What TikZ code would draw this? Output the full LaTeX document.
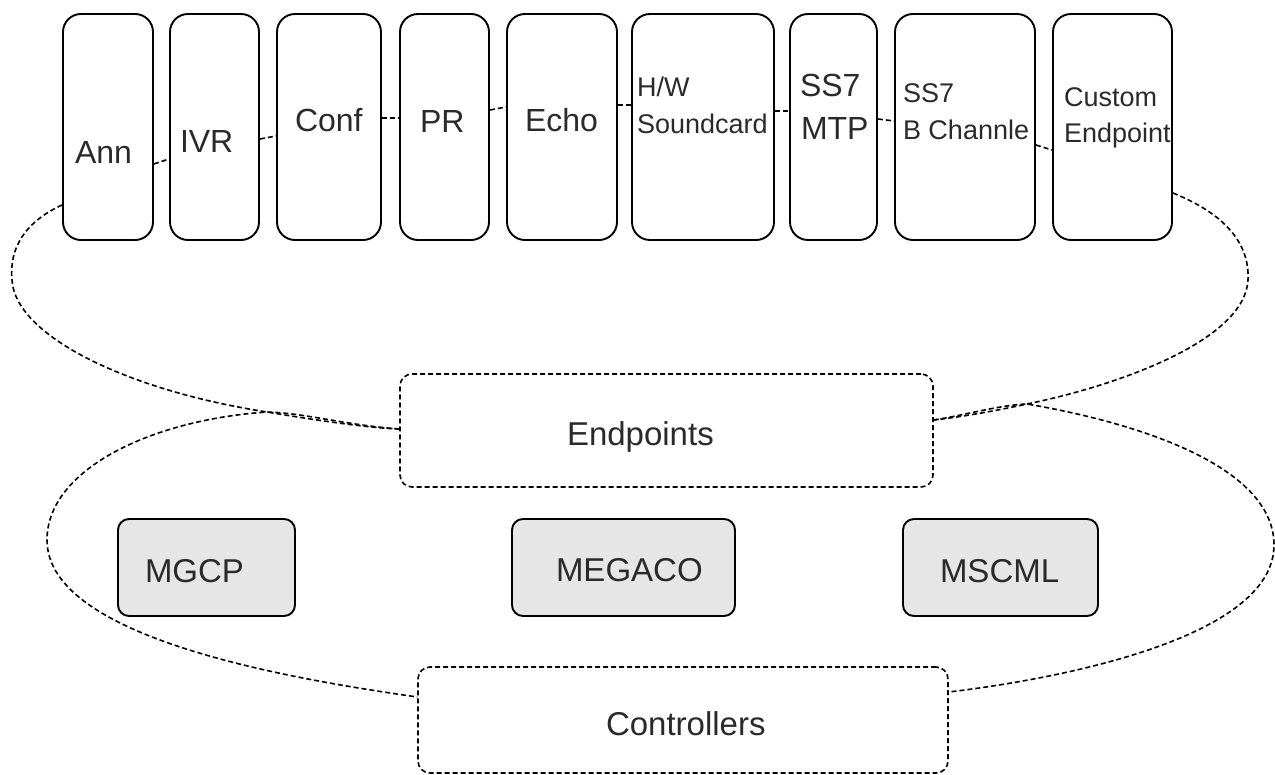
\documentclass[tikz,border=0pt]{standalone}
\usepackage{fontspec}
\setmainfont{Liberation Sans}
\usetikzlibrary{calc}
\newcommand\FontTop{\fontsize{32}{38}\selectfont}
\newcommand\FontTwo{\fontsize{27}{32}\selectfont}
\newcommand\FontBot{\fontsize{33}{40}\selectfont}
\definecolor{txtc}{HTML}{2A2A2A}
\definecolor{protofill}{HTML}{E6E6E6}
\begin{document}
\begin{tikzpicture}[x=1pt,y=-1pt,
  tbox/.style={draw=black, line width=1.9pt, rounded corners=18pt, inner sep=0pt, minimum height=226pt},
  dbox/.style={draw=black, line width=1.6pt, dash pattern=on 5pt off 3pt, rounded corners=12pt, inner sep=0pt},
  pbox/.style={draw=black, line width=1.9pt, fill=protofill, rounded corners=11pt, inner sep=0pt, minimum height=97pt},
  lbl/.style={inner sep=0pt, outer sep=0pt, text=txtc, anchor=base west},
  link/.style={draw=black, line width=1.6pt, dash pattern=on 5pt off 3pt},
  loop/.style={draw=black, line width=1.6pt, dash pattern=on 5pt off 3pt}
]
\useasboundingbox (0,0) rectangle (1275,775);

% top endpoint boxes
\node[tbox, minimum width=90pt]  (Ann)  at (108,127) {};
\node[tbox, minimum width=89pt]  (IVR)  at (214.5,127) {};
\node[tbox, minimum width=104pt] (Conf) at (329,127) {};
\node[tbox, minimum width=89pt]  (PR)   at (444.5,127) {};
\node[tbox, minimum width=110pt] (Echo) at (562,127) {};
\node[tbox, minimum width=142pt] (HW)   at (703,127) {};
\node[tbox, minimum width=87pt]  (MTP)  at (833.5,127) {};
\node[tbox, minimum width=140pt] (BCh)  at (965,127) {};
\node[tbox, minimum width=119pt] (Cust) at (1112.5,127) {};

% labels of top boxes
\node[lbl, font=\FontTop] (tAnn)  at (75,164) {Ann};
\node[lbl, font=\FontTop] (tIVR)  at (180,153) {IVR};
\node[lbl, font=\FontTop] (tConf) at (295,132) {Conf};
\node[lbl, font=\FontTop] (tPR)   at (420,133) {PR};
\node[lbl, font=\FontTop] (tEcho) at (525,132) {Echo};
\node[lbl, font=\FontTwo] (tHWa)  at (637,97) {H/W};
\node[lbl, font=\FontTwo] (tHWb)  at (637,134) {Soundcard};
\node[lbl, font=\FontTop] (tMTPa) at (800,97) {SS7};
\node[lbl, font=\FontTop] (tMTPb) at (801,140) {MTP};
\node[lbl, font=\FontTwo] (tBa)   at (903,103) {SS7};
\node[lbl, font=\FontTwo] (tBb)   at (903,140) {B Channle};
\node[lbl, font=\FontTwo] (tCa)   at (1064,107) {Custom};
\node[lbl, font=\FontTwo] (tCb)   at (1064,143) {Endpoint};

% short dashed links between top boxes
\draw[link] (Ann.east |- 0,164) -- (IVR.west |- 0,159);
\draw[link] (IVR.east |- 0,139) -- (Conf.west |- 0,136);
\draw[link] (Conf.east |- 0,118) -- (PR.west |- 0,118);
\draw[link] (PR.east |- 0,110) -- (Echo.west |- 0,107);
\draw[link] (Echo.east |- 0,105) -- (HW.west |- 0,105);
\draw[link] (HW.east |- 0,111) -- (MTP.west |- 0,111);
\draw[link] (MTP.east |- 0,119) -- (BCh.west |- 0,121);
\draw[link] (BCh.east |- 0,145) -- (Cust.west |- 0,150);

% Endpoints and Controllers
\node[dbox, minimum width=533pt, minimum height=113pt] (EP) at (666.5,430.5) {};
\node[lbl, font=\FontBot] (tEP) at (567,446) {Endpoints};
\node[dbox, minimum width=530pt, minimum height=106pt] (CT) at (683,720) {};
\node[lbl, font=\FontBot] (tCT) at (606,735) {Controllers};

% protocol boxes
\node[pbox, minimum width=177pt] (MGCP)   at (206.5,567.5) {};
\node[pbox, minimum width=223pt] (MEGACO) at (623.5,567.5) {};
\node[pbox, minimum width=195pt] (MSCML)  at (1000.5,567.5) {};
\node[lbl, font=\FontBot] (tMGCP)   at (145,582) {MGCP};
\node[lbl, font=\FontBot] (tMEGACO) at (556,581) {MEGACO};
\node[lbl, font=\FontBot] (tMSCML)  at (940,582) {MSCML};

% big dashed loops
\draw[loop] (Ann.west |- 0,205)
  .. controls (25,222) and (9,248) .. (12,280)
  .. controls (15,335) and (125,390) .. (267,412)
  .. controls (320,421) and (370,428) .. (EP.west |- 0,429);
\draw[loop] (EP.west |- 0,429)
  .. controls (345,425) and (305,413) .. (267,412)
  .. controls (150,420) and (47,470) .. (47,540)
  .. controls (47,640) and (300,680) .. (CT.west |- 0,697);
\draw[loop] (Cust.east |- 0,193)
  .. controls (1220,212) and (1250,240) .. (1248,280)
  .. controls (1245,340) and (1120,385) .. (1027,404)
  .. controls (990,412) and (960,417) .. (EP.east |- 0,420);
\draw[loop] (EP.east |- 0,420)
  .. controls (970,414) and (1000,405) .. (1027,404)
  .. controls (1150,425) and (1274,470) .. (1274,545)
  .. controls (1274,640) and (1050,680) .. (CT.east |- 0,692);
\end{tikzpicture}
\end{document}
